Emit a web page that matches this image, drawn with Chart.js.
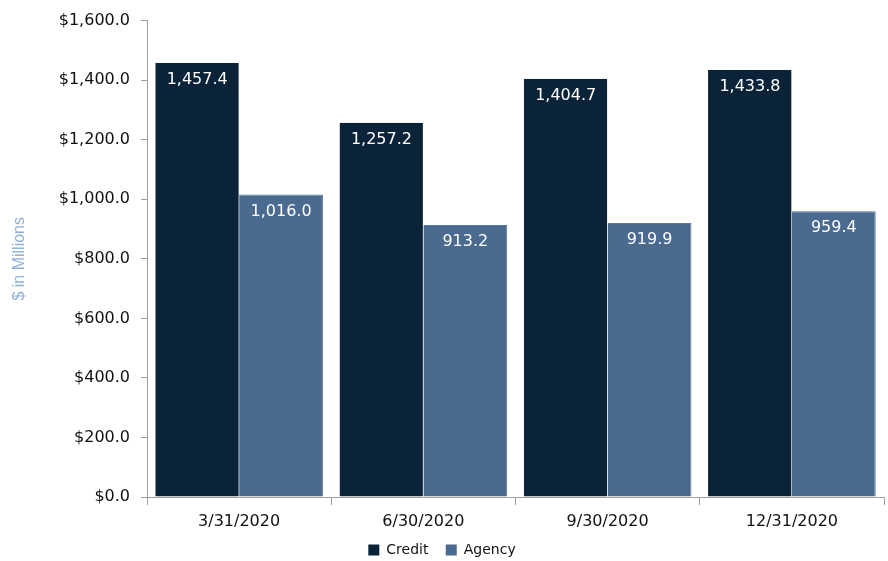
<!DOCTYPE html>
<html><head><meta charset="utf-8">
<script src="https://cdn.jsdelivr.net/npm/chart.js@4/dist/chart.umd.min.js"></script>
<style>html,body{margin:0;padding:0;background:#fff}#wrap{width:888px;height:561px}</style>
</head><body><div id="wrap"><canvas id="c" width="888" height="561"></canvas></div>
<script>
const categories = ['3/31/2020','6/30/2020','9/30/2020','12/31/2020'];
const credit = [1457.4, 1257.2, 1404.7, 1433.8];
const agency = [1016.0, 913.2, 919.9, 959.4];
const yTicks = [0,200,400,600,800,1000,1200,1400,1600];
const FONT = "'DejaVu Sans', sans-serif";
const TFONT = "'Liberation Sans', Arial, sans-serif";
const fmt1 = v => v.toLocaleString('en-US',{minimumFractionDigits:1,maximumFractionDigits:1});

const labelPlugin = {
  id:'labels',
  afterDatasetsDraw(chart){
    const ctx = chart.ctx;
    ctx.save();
    ctx.fillStyle = '#ffffff';
    ctx.font = '16px ' + FONT;
    ctx.textAlign = 'center';
    ctx.textBaseline = 'middle';
    chart.data.datasets.forEach((ds,i)=>{
      chart.getDatasetMeta(i).data.forEach((bar,j)=>{
        ctx.fillText(fmt1(ds.data[j]), bar.x, bar.y + 17);
      });
    });
    ctx.restore();
  }
};

new Chart(document.getElementById('c'),{
  type:'bar',
  data:{labels:categories,datasets:[
    {label:'Credit',data:credit,backgroundColor:'#0b2339',borderColor:'#ffffff',borderWidth:{left:0,right:0.5,top:0,bottom:0},categoryPercentage:0.91,barPercentage:1},
    {label:'Agency',data:agency,backgroundColor:'#4a6a8f',borderColor:'#5a7aa0',borderWidth:{left:0,right:1,top:1,bottom:0},categoryPercentage:0.91,barPercentage:1}
  ]},
  options:{
    responsive:false,animation:false,
    layout:{padding:{top:16,right:4,left:0,bottom:-6}},
    plugins:{
      legend:{position:'bottom',labels:{font:{family:FONT,size:14},color:'#111',boxWidth:11,boxHeight:11,padding:4,
        generateLabels(chart){
          const items = Chart.defaults.plugins.legend.labels.generateLabels(chart);
          items.forEach((it,i)=>{ it.lineWidth = 0; if(i < items.length-1) it.text = it.text + '   '; });
          return items;
        }}},
      tooltip:{enabled:false}
    },
    scales:{
      x:{
        grid:{display:true,drawOnChartArea:false,offset:true,color:'#a0a0a0',tickLength:8},
        border:{color:'#a0a0a0'},
        ticks:{font:{family:FONT,size:16,lineHeight:1.0},color:'#111',padding:9}
      },
      y:{
        min:0,max:1600,
        afterBuildTicks(s){s.ticks = yTicks.map(v=>({value:v}));},
        afterFit(s){s.width = 147;},
        grid:{drawOnChartArea:false,color:'#a0a0a0',tickLength:6},
        border:{color:'#a0a0a0'},
        ticks:{font:{family:FONT,size:16},color:'#111',padding:11,callback:v=>'$'+fmt1(v)},
        title:{display:true,text:'$ in Millions',color:'#8fb0d8',font:{family:TFONT,size:16},padding:{top:10,bottom:4}}
      }
    }
  },
  plugins:[labelPlugin]
});
</script></body></html>
